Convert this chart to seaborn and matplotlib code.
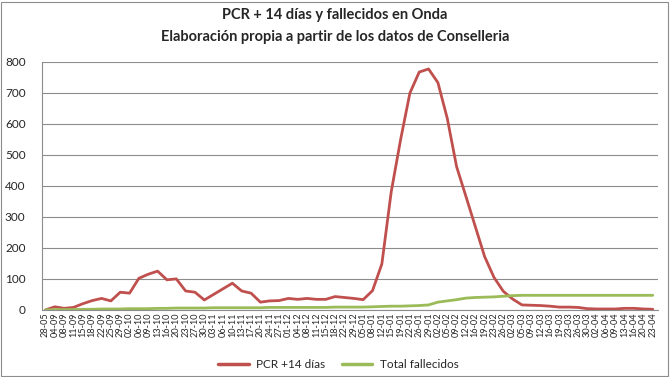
import numpy as np
import pandas as pd
import matplotlib
matplotlib.use('Agg')
import matplotlib.pyplot as plt
from matplotlib.patches import Rectangle
import seaborn as sns

fechas = ["28-05", "04-09", "08-09", "11-09", "15-09", "18-09", "22-09", "25-09", "29-09",
          "02-10", "06-10", "09-10", "13-10", "16-10", "20-10", "23-10", "27-10", "30-10",
          "03-11", "06-11", "10-11", "13-11", "17-11", "20-11", "24-11", "27-11",
          "01-12", "04-12", "08-12", "11-12", "15-12", "18-12", "22-12", "29-12",
          "05-01", "08-01", "12-01", "15-01", "19-01", "22-01", "26-01", "29-01",
          "02-02", "05-02", "09-02", "12-02", "16-02", "19-02", "23-02", "26-02",
          "02-03", "05-03", "09-03", "12-03", "16-03", "19-03", "23-03", "26-03", "30-03",
          "02-04", "06-04", "09-04", "13-04", "16-04", "20-04", "23-04"]

pcr_14 = [0, 10, 5, 8, 20, 30, 37, 29, 57, 54,
          102, 115, 125, 97, 100, 61, 57, 32, 50, 68,
          86, 61, 54, 25, 29, 30, 37, 34, 37, 34,
          34, 43, 40, 37, 33, 62, 148, 380, 548, 699,
          767, 777, 733, 618, 462, 366, 269, 172, 105, 60,
          35, 16, 15, 14, 12, 9, 9, 8, 4, 3,
          3, 3, 5, 5, 3, 2]

fallecidos = [0, 1, 1, 1, 2, 2, 3, 3, 3, 4,
              4, 4, 5, 5, 6, 6, 6, 6, 7, 7,
              7, 7, 7, 7, 8, 8, 8, 8, 8, 8,
              8, 9, 9, 9, 9, 10, 11, 12, 12, 13,
              14, 16, 25, 29, 33, 38, 40, 41, 42, 44,
              46, 47, 47, 47, 47, 47, 47, 47, 47, 47,
              47, 47, 47, 47, 47, 47]

series = ["PCR +14 días", "Total fallecidos"]
colores = ["#C0504D", "#9BBB59"]

df = pd.DataFrame({
    "idx": list(range(len(fechas))) * 2,
    "valor": pcr_14 + fallecidos,
    "serie": [series[0]] * len(fechas) + [series[1]] * len(fechas),
})

sns.set_style("white")
plt.rcParams['font.family'] = ['Lato', 'DejaVu Sans']

fig = plt.figure(figsize=(6.7, 3.77), dpi=100)
ax = fig.add_axes([0.063, 0.178, 0.919, 0.658])

sns.lineplot(data=df, x="idx", y="valor", hue="serie", palette=colores,
             linewidth=2.0, ax=ax, legend=False)

ax.set_xlim(-0.35, len(fechas) - 0.45)
ax.set_ylim(0, 800)
ax.set_yticks(range(0, 801, 100))
ax.yaxis.grid(True, color="#8c8c8c", linewidth=0.8)
ax.set_axisbelow(True)
ax.set_xticks(range(len(fechas)))
ax.set_xticklabels(fechas, rotation=90, fontsize=6.6)
ax.tick_params(axis="y", labelsize=8.5, length=0, pad=12)
ax.tick_params(axis="x", length=0, pad=2)
ax.set_xlabel("")
ax.set_ylabel("")
for s in ["top", "right"]:
    ax.spines[s].set_visible(False)
for s in ["left", "bottom"]:
    ax.spines[s].set_color("#8c8c8c")
    ax.spines[s].set_linewidth(0.8)

fig.text(0.5, 0.96, "PCR + 14 días y fallecidos en Onda", ha="center", va="center",
         fontsize=10.5, fontweight="bold")
fig.text(0.5, 0.902, "Elaboración propia a partir de los datos de Conselleria", ha="center",
         va="center", fontsize=10.5, fontweight="bold")

handles = [plt.Line2D([], [], color=c, linewidth=2.5) for c in colores]
fig.legend(handles, series, loc="center", bbox_to_anchor=(0.505, 0.032), ncol=2,
           frameon=False, fontsize=8.5, handlelength=2.6, handletextpad=0.6,
           columnspacing=1.4)

fig.patches.append(Rectangle((0.002, 0.003), 0.995, 0.993, transform=fig.transFigure,
                             fill=False, edgecolor="#8c8c8c", linewidth=0.8))

fig.savefig("out.png", dpi=100)
plt.close(fig)
